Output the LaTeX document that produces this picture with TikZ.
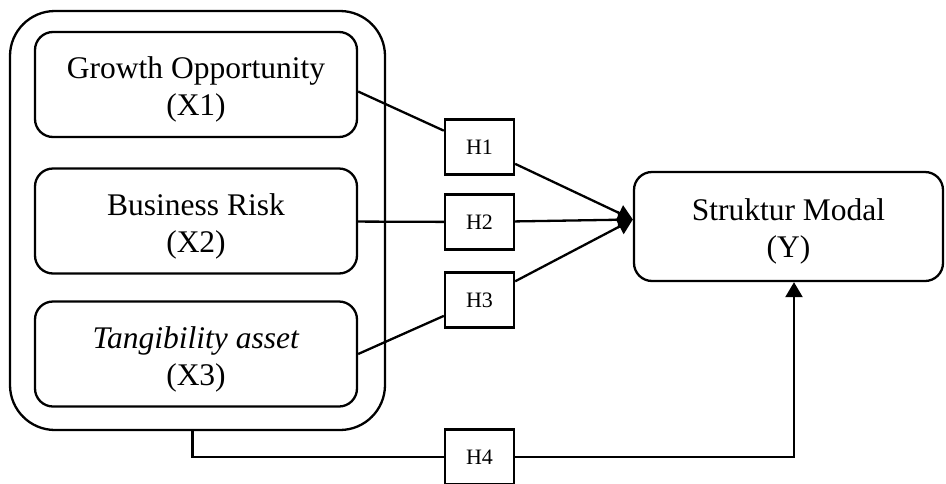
\documentclass[tikz,border=0pt]{standalone}
\usepackage{fontspec}
\setmainfont{Liberation Serif}
\usetikzlibrary{arrows.meta,positioning}

\begin{document}
\begin{tikzpicture}[x=1pt, y=-1pt, line width=2.3pt,
    var/.style={draw, rounded corners=18pt, minimum width=322pt, minimum height=105pt,
        inner sep=0pt, align=center, font=\fontsize{31.5}{37}\selectfont},
    hyp/.style={draw, minimum width=69pt, minimum height=55pt, inner sep=0pt,
        font=\fontsize{22}{25}\selectfont},
    hyparrow/.style={-{Triangle[length=15pt,width=17pt]}}]
    \useasboundingbox (0,0) rectangle (946,483);

    % Outer frame
    \node[draw, rounded corners=45pt, minimum width=375pt, minimum height=419pt] (outer) at (197.5,220.5) {};

    % Independent variables
    \node[var] (x1) at (196,84.5) {\rule{0pt}{32pt}Growth Opportunity\\(X1)};
    \node[var] (x2) at (196,221) {\rule{0pt}{32pt}Business Risk\\(X2)};
    \node[var] (x3) at (196,354) {\rule{0pt}{32pt}\textit{Tangibility asset}\\(X3)};

    % Dependent variable
    \node[var, minimum width=309pt, minimum height=109pt] (y) at (788.5,226.5) {\rule{0pt}{32pt}Struktur Modal\\(Y)};
    \coordinate (yin) at ([yshift=7pt]y.west);

    % Hypotheses
    \node[hyp] (h1) at (479.5,147) {H1};
    \node[hyp] (h2) at (479.5,222) {H2};
    \node[hyp] (h3) at (479.5,300) {H3};
    \node[hyp] (h4) at (479.5,457) {H4};

    % Partial effects
    \draw ([yshift=-7pt]x1.east) -- (h1);
    \draw (x2) -- (h2);
    \draw (x3.east) -- (h3);
    \draw[hyparrow] (h1) -- (yin);
    \draw[hyparrow] (h2) -- (yin);
    \draw[hyparrow] (h3) -- (yin);

    % Simultaneous effect
    \draw ([xshift=-5pt]outer.south) |- (h4);
    \draw[hyparrow] (h4) -| ([xshift=5.5pt]y.south);
\end{tikzpicture}
\end{document}
